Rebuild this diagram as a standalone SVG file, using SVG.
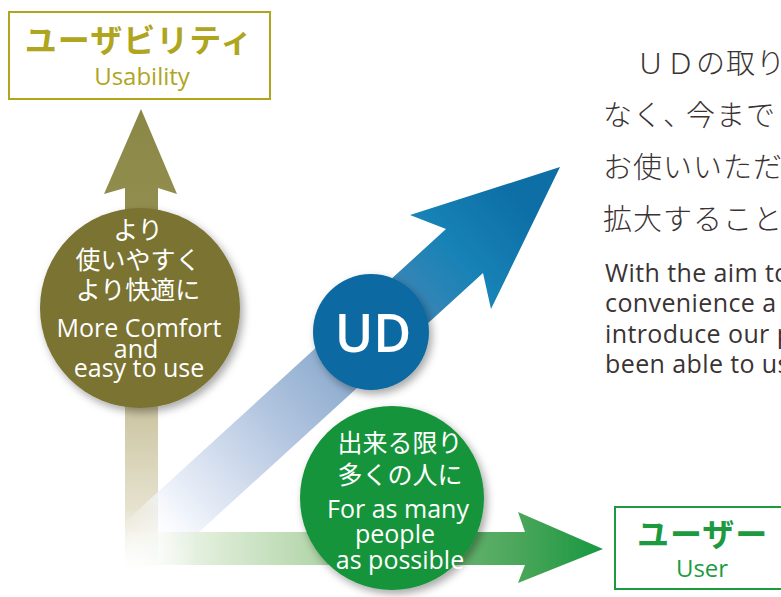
<svg xmlns="http://www.w3.org/2000/svg" width="781" height="597" viewBox="0 0 781 597">
<defs>
<style>
.jp{font-family:"Noto Sans CJK JP","Noto Sans",sans-serif;}
.en{font-family:"Open Sans","Noto Sans",sans-serif;}
.cw{fill:#ffffff;text-anchor:middle;}
.body{fill:#3a3333;}
</style>
<linearGradient id="gOlive" gradientUnits="userSpaceOnUse" x1="0" y1="109" x2="0" y2="580">
<stop offset="0" stop-color="#8b8745"/>
<stop offset="0.2" stop-color="#918d4e"/>
<stop offset="0.6" stop-color="#c8c09a"/>
<stop offset="0.85" stop-color="#e6e2cf"/>
<stop offset="1" stop-color="#ffffff" stop-opacity="0"/>
</linearGradient>
<linearGradient id="gBlue" gradientUnits="userSpaceOnUse" x1="145" y1="543" x2="525" y2="205">
<stop offset="0" stop-color="#ffffff" stop-opacity="0"/>
<stop offset="0.1" stop-color="#eef2fa"/>
<stop offset="0.35" stop-color="#aec2de"/>
<stop offset="0.55" stop-color="#7ea2c8"/>
<stop offset="0.72" stop-color="#2a7fb2"/>
<stop offset="0.84" stop-color="#0a7bb2"/>
<stop offset="1" stop-color="#0067a0"/>
</linearGradient>
<linearGradient id="gGreen" gradientUnits="userSpaceOnUse" x1="125" y1="0" x2="603" y2="0">
<stop offset="0" stop-color="#ffffff" stop-opacity="0"/>
<stop offset="0.15" stop-color="#e2efdc"/>
<stop offset="0.4" stop-color="#b0d4a6"/>
<stop offset="0.7" stop-color="#5cae66"/>
<stop offset="0.83" stop-color="#3fa150"/>
<stop offset="1" stop-color="#0b9236"/>
</linearGradient>
<filter id="sh" x="-20%" y="-20%" width="150%" height="150%">
<feDropShadow dx="3" dy="4" stdDeviation="4" flood-color="#000000" flood-opacity="0.35"/>
</filter>
</defs>
<rect width="781" height="597" fill="#ffffff"/>

<g id="connectors">
<polygon id="arrow-usability" points="141,109 177,194 158,188 158,580 125,580 125,188 104,194" fill="url(#gOlive)"/>
<polygon id="arrow-ud" points="560,167 410,215 446,229 125,522 164,564 483,273 491,309" fill="url(#gBlue)" fill-opacity="0.95"/>
<polygon id="arrow-user" points="125,532 525,532 518,512 603,549 518,583 525,565 125,565" fill="url(#gGreen)" fill-opacity="0.95"/>
</g>

<g id="node-usability-box">
<rect x="9" y="12" width="261" height="87" fill="#ffffff" stroke="#afa51e" stroke-width="2"/>
<text class="jp" x="139" y="52" font-size="32" font-weight="700" fill="#afa51e" text-anchor="middle" letter-spacing="1">ユーザビリティ</text>
<text class="en" x="142" y="85" font-size="24" fill="#afa51e" text-anchor="middle">Usability</text>
</g>

<g id="node-comfort">
<circle cx="140" cy="308" r="100" fill="#7a7331" filter="url(#sh)"/>
<text class="jp cw" x="138" y="239" font-size="25">より</text>
<text class="jp cw" x="138" y="269" font-size="25">使いやすく</text>
<text class="jp cw" x="138" y="299" font-size="25">より快適に</text>
<text class="en cw" x="139" y="337" font-size="25">More Comfort</text>
<text class="en cw" x="136" y="358" font-size="25">and</text>
<text class="en cw" x="139" y="377" font-size="25">easy to use</text>
</g>

<g id="node-ud">
<circle cx="371" cy="332" r="58" fill="#0b69a1" filter="url(#sh)"/>
<text class="en cw" x="373" y="352" font-size="52" font-weight="600">UD</text>
</g>

<g id="node-people">
<circle cx="392" cy="498" r="92" fill="#17943b" filter="url(#sh)"/>
<text class="jp cw" x="400" y="452" font-size="25">出来る限り</text>
<text class="jp cw" x="400" y="484" font-size="25">多くの人に</text>
<text class="en cw" x="398" y="518" font-size="25">For as many</text>
<text class="en cw" x="395" y="543" font-size="25">people</text>
<text class="en cw" x="400" y="569" font-size="25">as possible</text>
</g>

<g id="node-user-box">
<rect x="615" y="507" width="200" height="82" fill="#ffffff" stroke="#1d9a3f" stroke-width="2"/>
<text class="jp" x="637" y="546" font-size="32" font-weight="700" fill="#1d9a3f" letter-spacing="1">ユーザー</text>
<text class="en" x="702" y="577" font-size="24" fill="#1d9a3f" text-anchor="middle">User</text>
</g>

<g id="body-text">
<text class="jp body" x="636" y="74" font-size="29" font-weight="300" letter-spacing="1">ＵＤの取り</text>
<text class="jp body" x="603" y="126" font-size="29" font-weight="300" letter-spacing="1"><tspan>なく、</tspan><tspan dx="-7">今まで</tspan></text>
<text class="jp body" x="603" y="178" font-size="29" font-weight="300" letter-spacing="1">お使いいただ</text>
<text class="jp body" x="603" y="230" font-size="29" font-weight="300" letter-spacing="1">拡大すること</text>
<text class="en body" x="605" y="282" font-size="25" letter-spacing="0.4">With the aim to</text>
<text class="en body" x="605" y="312" font-size="25" letter-spacing="0.4">convenience a</text>
<text class="en body" x="605" y="343" font-size="25" letter-spacing="0.4">introduce our p</text>
<text class="en body" x="605" y="373" font-size="25" letter-spacing="0.4">been able to us</text>
</g>
</svg>
